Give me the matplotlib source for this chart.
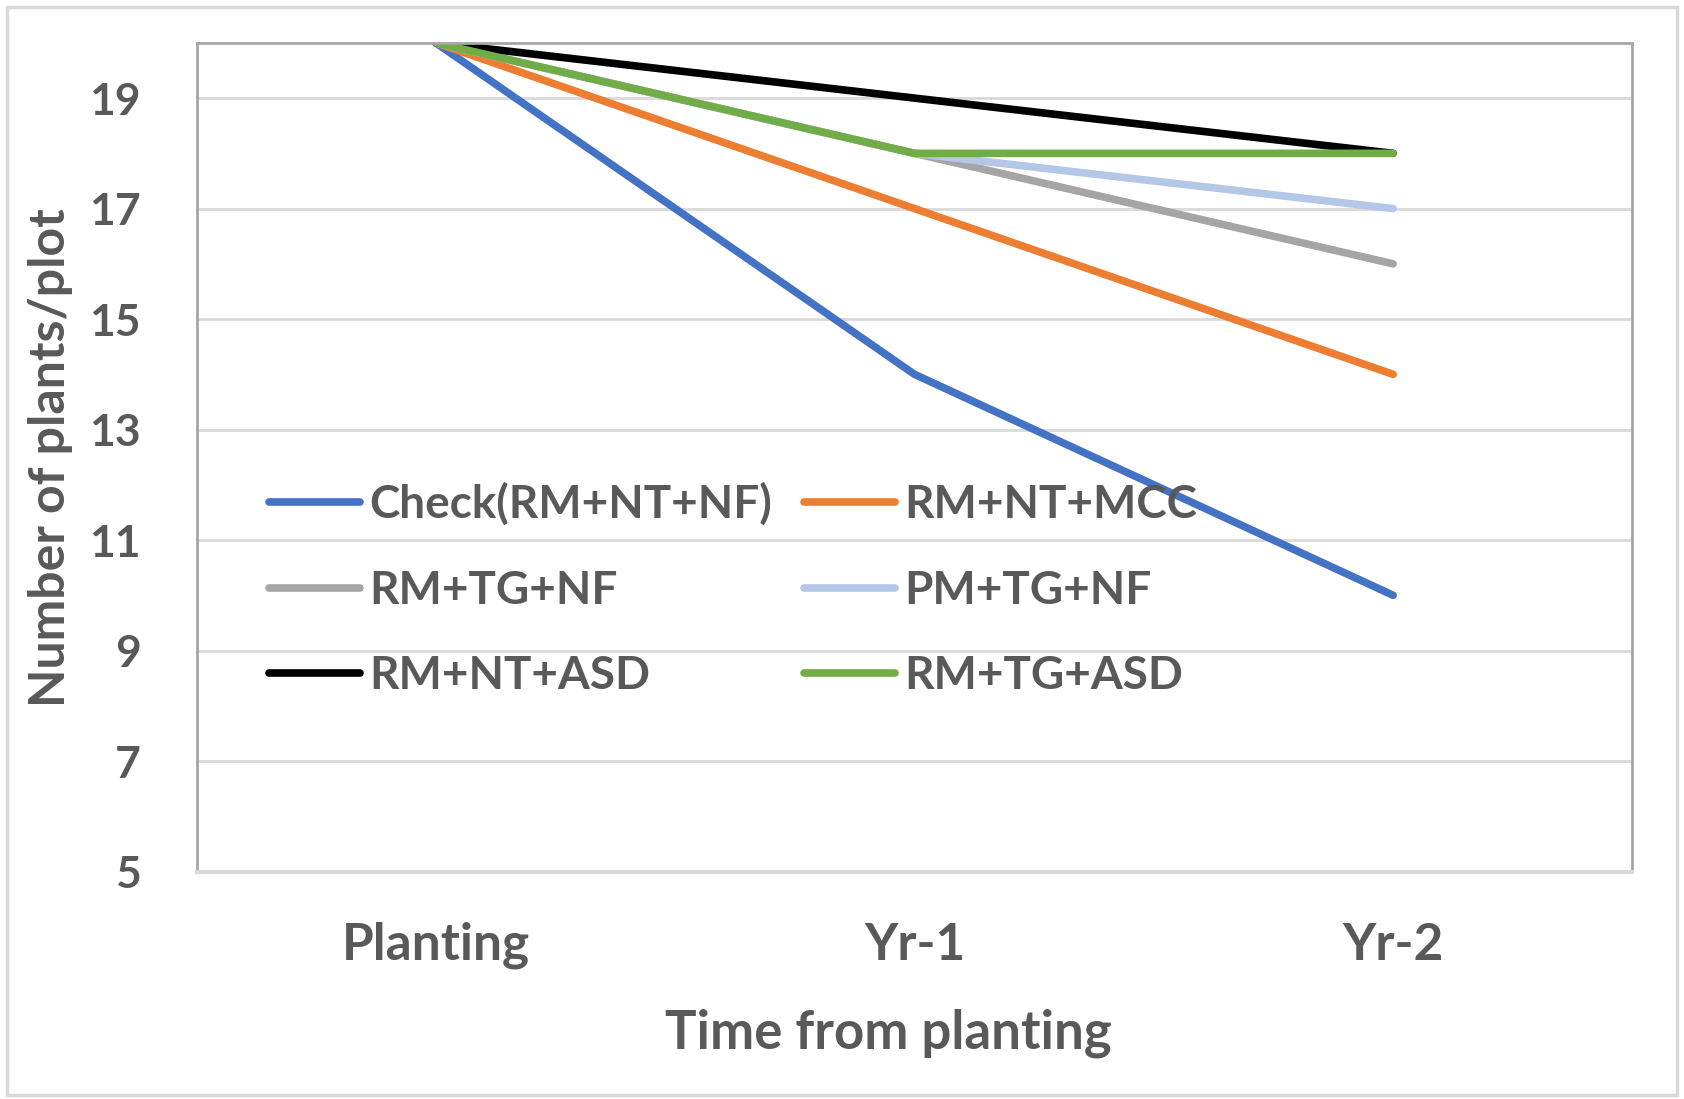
import matplotlib
matplotlib.use("Agg")
import matplotlib.pyplot as plt
from matplotlib.patches import Rectangle

plt.rcParams['font.family'] = ['Lato', 'DejaVu Sans']
plt.rcParams['font.weight'] = 'bold'

categories = ["Planting", "Yr-1", "Yr-2"]
series_names = ["Check(RM+NT+NF)", "RM+NT+MCC", "RM+TG+NF", "PM+TG+NF", "RM+NT+ASD", "RM+TG+ASD"]
check_vals = [20, 14, 10]
mcc_vals = [20, 17, 14]
tgnf_vals = [20, 18, 16]
pmtgnf_vals = [20, 18, 17]
ntasd_vals = [20, 19, 18]
tgasd_vals = [20, 18, 18]
series_values = [check_vals, mcc_vals, tgnf_vals, pmtgnf_vals, ntasd_vals, tgasd_vals]
colors = ["#4472C4", "#ED7D31", "#A5A5A5", "#B4C7E7", "#000000", "#70AD47"]
yticks = [5, 7, 9, 11, 13, 15, 17, 19]

text_color = "#595959"

fig = plt.figure(figsize=(16.84, 10.99), dpi=100)
ax = fig.add_axes([0.1167, 0.207, 0.8527, 0.754])

x = list(range(len(categories)))
lines = []
for name, vals, c in zip(series_names, series_values, colors):
    ln, = ax.plot(x, vals, color=c, lw=5.5, solid_capstyle='round', solid_joinstyle='round', label=name)
    lines.append(ln)

ax.set_xlim(-0.5, 2.5)
ax.set_ylim(5, 20)
ax.set_yticks(yticks)
ax.set_xticks(x)
ax.set_xticklabels(categories)
ax.tick_params(axis='both', length=0, labelcolor=text_color)
ax.tick_params(axis='y', labelsize=32, pad=40)
ax.tick_params(axis='x', labelsize=37, pad=36)
for t in ax.get_xticklabels() + ax.get_yticklabels():
    t.set_fontweight('bold')
ax.grid(axis='y', color="#D9D9D9", lw=2)
ax.set_axisbelow(True)
for s in ['left', 'right', 'top']:
    ax.spines[s].set_color("#A6A6A6")
    ax.spines[s].set_linewidth(2)
ax.spines['bottom'].set_color("#D9D9D9")
ax.spines['bottom'].set_linewidth(3)

ax.set_xlabel("Time from planting", fontsize=38, fontweight='bold', color=text_color, labelpad=26)
ax.xaxis.set_label_coords(0.482, -0.165)
ax.set_ylabel("Number of plants/plot", fontsize=36, fontweight='bold', color=text_color, labelpad=12)

# row-wise legend order: matplotlib fills columns first
order = [0, 2, 4, 1, 3, 5]
leg = ax.legend([lines[i] for i in order], [series_names[i] for i in order],
                loc='upper left', bbox_to_anchor=(0.0215, 0.519), ncol=2, frameon=False,
                labelcolor=text_color, handlelength=2.0, handletextpad=0.2,
                columnspacing=0.68, labelspacing=0.95, prop={'weight': 'bold', 'size': 33})

fig.patches.append(Rectangle((0.004, 0.004), 0.992, 0.99, transform=fig.transFigure,
                             fill=False, edgecolor="#D9D9D9", lw=2.5))

fig.savefig("out.png", dpi=100)
